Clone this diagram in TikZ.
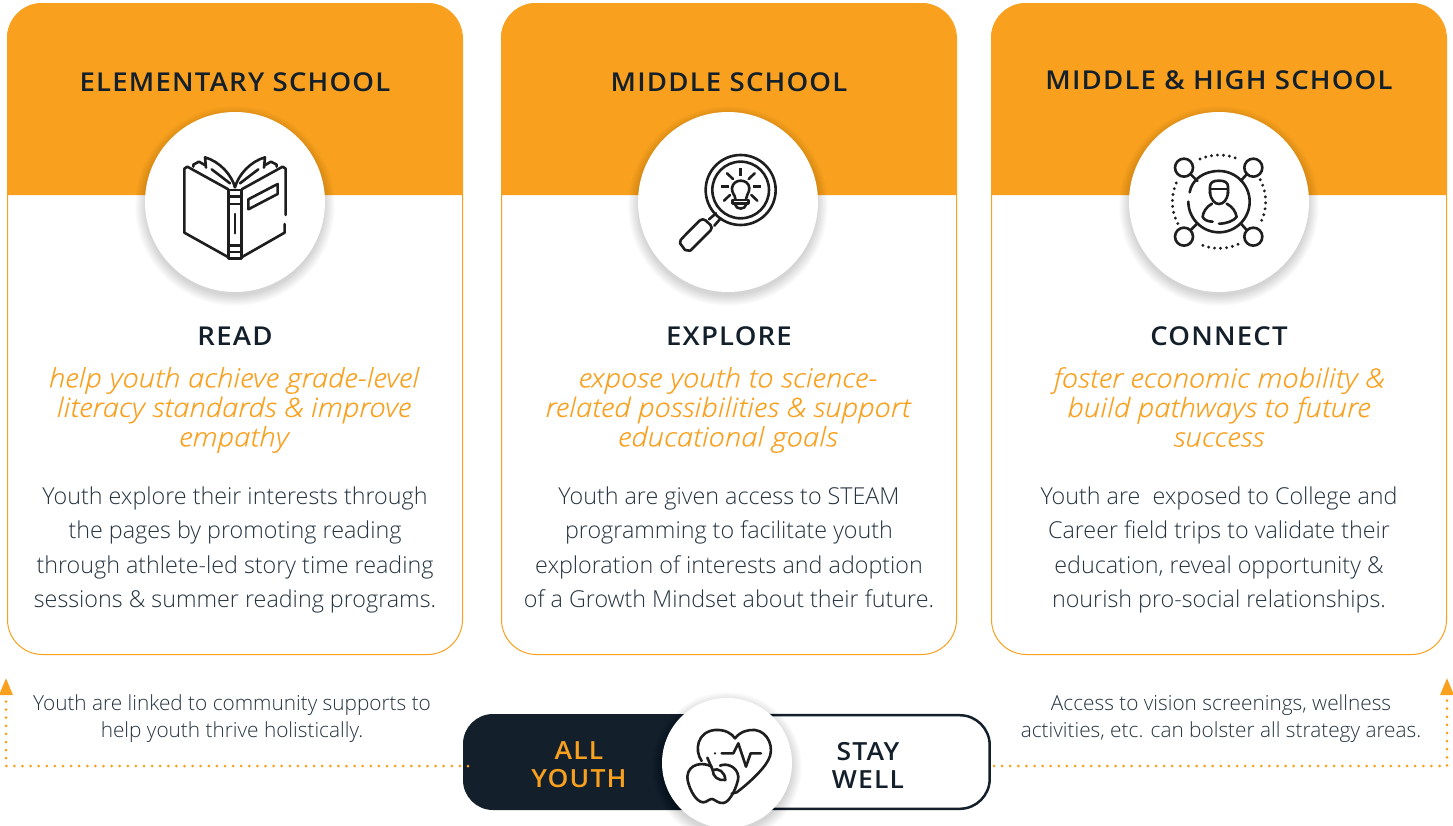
\documentclass[tikz,border=0pt]{standalone}
\usepackage{fontspec}
\setmainfont{Open Sans Light}[BoldFont=Open Sans,ItalicFont=Open Sans Light Italic]
\newfontfamily\headf[LetterSpace=4.6,FakeStretch=1.06]{Open Sans Semibold}
\newfontfamily\goalf[FakeStretch=1.1,FakeBold=0.25]{Open Sans Light Italic}
\usetikzlibrary{arrows.meta}
\definecolor{orng}{HTML}{F9A11F}
\definecolor{navy}{HTML}{13202B}
\definecolor{bodyc}{HTML}{25333F}
\definecolor{icon}{HTML}{1E1E1E}
\tikzset{
  x=1pt,y=-1pt,
  cardbox/.style={draw=orng,line width=1pt,rounded corners=35pt,minimum width=455pt,minimum height=651pt,inner sep=0pt,fill=white},
  ttl/.style={text=navy,font=\headf\fontsize{26}{29}\selectfont,inner sep=0pt},
  verb/.style={text=navy,font=\headf\fontsize{26}{29}\selectfont,inner sep=0pt},
  goal/.style={text=orng,align=center,inner sep=0pt,font=\goalf\fontsize{26.7}{29.5}\selectfont},
  desc/.style={text=bodyc,align=center,inner sep=0pt,font=\fontsize{23.3}{34.5}\selectfont},
  capt/.style={text=bodyc,align=center,inner sep=0pt,font=\fontsize{20.8}{27}\selectfont},
  badge/.style={circle,fill=white,inner sep=0pt},
  band/.style={align=center,inner sep=0pt,font=\headf\fontsize{25}{28}\selectfont},
  ico/.style={draw=icon,line width=2.6pt,line cap=round,line join=round},
  dotline/.style={draw=orng,line width=3pt,line cap=round,dash pattern=on 0pt off 8.1pt},
  zoomed/.style={x=0.3333pt,y=-0.3333pt},
}
\newcommand{\softshadow}[3]{%
  \foreach \k in {0,1,...,13}{\fill[black,opacity=0.011] (#1,#2+4) circle (#3+10-0.8*\k);}}
\newcommand{\cardhead}[1]{%
  \fill[orng] (#1,195) -- (#1,38) arc[start angle=180,end angle=270,radius=35] -- ++(385,0)
     arc[start angle=270,end angle=360,radius=35] -- ++(0,157) -- cycle;}
\begin{document}
\begin{tikzpicture}
\useasboundingbox (0,0) rectangle (1453,825);
\fill[white] (0,0) rectangle (1453,825);

% cards
\node[cardbox,anchor=north west] (card1) at (7,3) {};
\node[cardbox,anchor=north west] (card2) at (501,3) {};
\node[cardbox,anchor=north west] (card3) at (991,3) {};
\cardhead{7}
\cardhead{501}
\cardhead{991}

% titles
\node[ttl] (t1) at (235,82) {ELEMENTARY SCHOOL};
\node[ttl] (t2) at (729,82) {MIDDLE SCHOOL};
\node[ttl] (t3) at (1219,80) {MIDDLE \& HIGH SCHOOL};

% badges
\softshadow{235}{202}{90}
\softshadow{728}{202}{90}
\softshadow{1219}{202}{90}
\node[badge,minimum size=180pt] (c1) at (235,202) {};
\node[badge,minimum size=180pt] (c2) at (728,202) {};
\node[badge,minimum size=180pt] (c3) at (1219,202) {};

% book icon
\begin{scope}[shift={(130,100)},zoomed]
\draw[ico] (295,268) -- (172,200) -- (163,206) -- (163,398) -- (292,470);
\draw[ico] (335,268) -- (458,200) -- (467,206) -- (467,345);
\draw[ico] (464,372) -- (464,398) -- (338,470);
\draw[ico] (296,270) rectangle (334,475);
\draw[ico] (296,290) -- (334,290) (296,312) -- (334,312) (296,437) -- (334,437) (296,456) -- (334,456);
\draw[ico] (315,342) -- (315,400);
\draw[ico] (355,298) -- (443,252) -- (443,282) -- (355,328) -- cycle;
\draw[ico] (315,262) .. controls (305,225) and (270,185) .. (225,172) -- (228,203);
\draw[ico] (190,200) -- (190,194) -- (207,185) -- (226,196);
\draw[ico] (245,208) -- (300,250);
\draw[ico] (315,262) .. controls (325,225) and (360,185) .. (405,172) -- (402,203);
\draw[ico] (440,200) -- (440,194) -- (423,185) -- (404,196);
\draw[ico] (385,208) -- (330,250);
\end{scope}

% magnifier icon
\begin{scope}[shift={(630,105)},zoomed]
\draw[ico] (332,255) circle (105) (332,255) circle (85);
\draw[ico,rounded corners=4pt] (218,338) -- (250,368) -- (190,428) .. controls (180,438) and (165,435) .. (158,425) .. controls (150,415) and (152,405) .. (160,396) -- cycle;
\draw[ico] (237,343) -- (258,325) (253,362) -- (272,340);
\draw[ico] (316,282) .. controls (316,270) and (305,265) .. (306,250) .. controls (307,235) and (320,227) .. (332,227) .. controls (345,227) and (358,235) .. (358,250) .. controls (358,265) and (348,270) .. (348,282);
\draw[ico] (308,285) -- (356,285) -- (356,296) -- (308,296) -- cycle;
\draw[ico] (315,298) .. controls (318,315) and (346,315) .. (349,298);
\draw[ico,line cap=butt,line width=3pt] (332,190) -- (332,212) (273,245) -- (297,245) (370,245) -- (393,245);
\draw[ico] (291,205) -- (309,222) (374,205) -- (356,222) (282,287) -- (300,270) (382,287) -- (364,270);
\end{scope}

% connect icon
\begin{scope}[shift={(1120,105)},zoomed]
\draw[ico] (209,262) .. controls (215,225) and (250,198) .. (297,198) .. controls (348,198) and (389,240) .. (389,290) .. controls (389,340) and (348,382) .. (297,382) .. controls (246,382) and (205,340) .. (205,290);
\foreach \cx/\cy in {192/188,400/188,192/395,400/395}{\draw[ico] (\cx,\cy) circle (27);}
\draw[ico] (212,208) -- (232,228) (380,208) -- (362,228) (212,375) -- (232,355) (380,375) -- (362,355);
\draw[ico] (270,265) -- (270,245) .. controls (270,232) and (280,227) .. (297,227) .. controls (314,227) and (324,232) .. (324,245) -- (324,265);
\draw[ico] (270,252) -- (324,252);
\draw[ico] (270,262) .. controls (272,285) and (285,297) .. (297,297) .. controls (310,297) and (322,285) .. (324,262);
\draw[ico] (276,296) .. controls (258,305) and (248,325) .. (248,336) .. controls (252,345) and (265,350) .. (278,350);
\draw[ico] (297,356) .. controls (320,356) and (340,348) .. (350,336) .. controls (348,322) and (338,305) .. (320,296);
\foreach \a/\b in {66/114,246/294,152/208,-28/28}{
  \draw[draw=icon,line width=3.2pt,line cap=round,dash pattern=on 0pt off 6pt] (297,290) ++(\a:140) arc[start angle=\a,end angle=\b,radius=140];}
\end{scope}

% headings & texts
\node[verb] (h1) at (235,336) {READ};
\node[verb] (h2) at (729,336) {EXPLORE};
\node[verb] (h3) at (1219,336) {CONNECT};

\node[goal] (g1) at (234,410) {help youth achieve grade-level\\literacy standards \& improve\\empathy};
\node[goal] (g2) at (728,410) {expose youth to science-\\related possibilities \& support\\educational goals};
\node[goal] (g3) at (1219,407) {foster economic mobility \&\\build pathways to future\\success};

\node[desc] (d1) at (235,550) {Youth explore their interests through\\the pages by promoting reading\\through athlete-led story time reading\\sessions \& summer reading programs.};
\node[desc] (d2) at (729,547.5) {Youth are given access to STEAM\\programming to facilitate youth\\exploration of interests and adoption\\of a Growth Mindset about their future.};
\node[desc] (d3) at (1219,550) {Youth are\ \ exposed to College and\\Career field trips to validate their\\education, reveal opportunity \&\\nourish pro-social relationships.};

\node[capt] (n1) at (232,719) {Youth are linked to community supports to\\help youth thrive holistically.};
\node[capt] (n2) at (1221,719) {Access to vision screenings, wellness\\activities, etc. can bolster all strategy areas.};

% band
\fill[navy,rounded corners=30pt] (463,714) rectangle (760,810);
\draw[navy,line width=2.5pt,fill=white,rounded corners=30pt] (700,715.2) rectangle (989.7,808.8);
\fill[navy] (700,714) rectangle (727,810);
\coordinate (leftstart) at (468,766);
\coordinate (leftcorner) at (6,766);
\coordinate (lefttip) at (6,678);
\coordinate (rightstart) at (994,766);
\coordinate (rightcorner) at (1447,766);
\coordinate (righttip) at (1447,678);
\node[band,text=orng] (ay) at (579,765) {ALL\\YOUTH};
\node[band,text=navy] (sw) at (868,765) {STAY\\WELL};
\softshadow{727}{763}{65}
\node[badge,minimum size=130pt] (c4) at (727,763) {};

% heart & apple icon
\begin{scope}[shift={(660,695)},zoomed]
\draw[ico] (125,198) .. controls (102,165) and (112,110) .. (165,105) .. controls (195,103) and (215,115) .. (225,130) .. controls (240,110) and (265,103) .. (285,105) .. controls (325,110) and (345,160) .. (325,195) .. controls (310,225) and (260,270) .. (230,292) -- (215,296);
\fill[icon] (165,175) circle (3.5);
\draw[ico] (185,175) -- (220,175) -- (235,145) -- (258,215) -- (272,175) -- (303,175);
\draw[ico] (155,215) .. controls (130,200) and (85,205) .. (82,245) .. controls (82,270) and (105,322) .. (130,322) .. controls (140,322) and (150,310) .. (157,312) .. controls (165,314) and (175,326) .. (190,324) .. controls (212,322) and (235,265) .. (235,245) .. controls (232,215) and (200,203) .. (180,212);
\draw[ico] (142,188) -- (158,225);
\draw[ico] (158,225) .. controls (175,218) and (195,230) .. (196,255) .. controls (175,258) and (158,245) .. (158,225) -- cycle;
\end{scope}

% dotted connectors
\draw[dotline,-{Triangle[length=17pt,width=13pt,fill=orng]}] (leftstart) -- (leftcorner) -- (lefttip);
\draw[dotline,-{Triangle[length=17pt,width=13pt,fill=orng]}] (rightstart) -- (rightcorner) -- (righttip);
\end{tikzpicture}
\end{document}
